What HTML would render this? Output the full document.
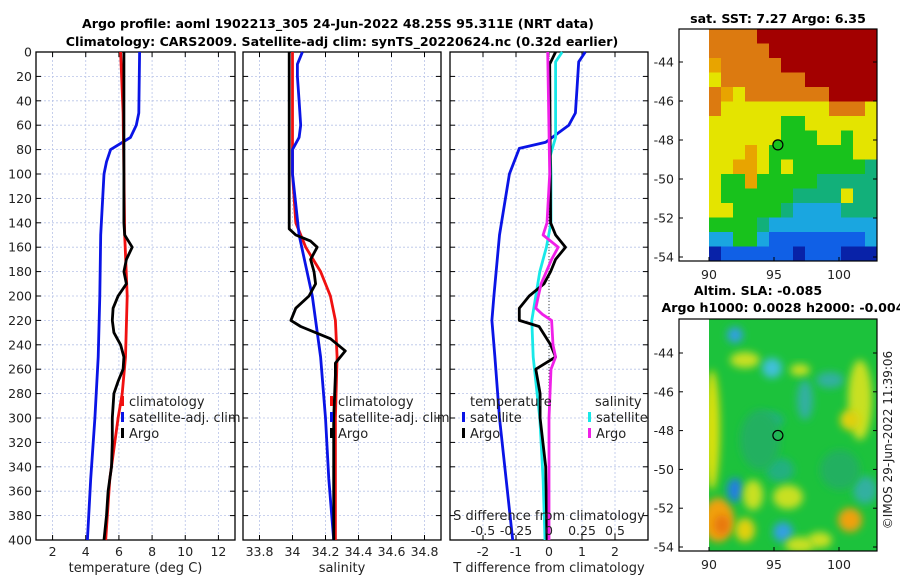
<!DOCTYPE html>
<html><head><meta charset="utf-8"><style>
body{margin:0;background:#fff;}
svg{display:block;font-family:"DejaVu Sans","Liberation Sans",sans-serif;}
</style></head><body>
<svg id="fig" width="900" height="580" viewBox="0 0 900 580">
<text x="338" y="28" text-anchor="middle" font-size="12.6" font-weight="bold">Argo profile: aoml 1902213_305 24-Jun-2022 48.25S 95.311E (NRT data)</text>
<text x="342" y="46" text-anchor="middle" font-size="12.6" font-weight="bold">Climatology: CARS2009. Satellite-adj clim: synTS_20220624.nc (0.32d earlier)</text>
<text x="778" y="23" text-anchor="middle" font-size="12.6" font-weight="bold">sat. SST: 7.27 Argo: 6.35</text>
<text x="758" y="295" text-anchor="middle" font-size="12.6" font-weight="bold">Altim. SLA: -0.085</text>
<text x="783" y="312" text-anchor="middle" font-size="12.6" font-weight="bold">Argo h1000: 0.0028 h2000: -0.004</text>
<text transform="translate(892,440) rotate(-90)" text-anchor="middle" font-size="12" fill="#222">©IMOS 29-Jun-2022 11:39:06</text>
</svg>
<script>
// temperature (deg C)
const tClimD=[0,50,100,150,200,250,280,300,350,400];
const tClim=[6.1,6.25,6.3,6.35,6.5,6.4,6.2,5.95,5.45,5.2];
const tSatD=[0,50,60,70,80,90,100,150,200,250,300,350,400];
const tSat=[7.25,7.2,7.05,6.7,5.5,5.25,5.1,4.9,4.85,4.75,4.55,4.3,4.1];
const tArgoD=[0,140,150,160,170,180,190,200,210,220,230,240,250,260,270,280,300,320,340,360,380,400];
const tArgo=[6.3,6.3,6.35,6.8,6.45,6.3,6.45,5.95,5.65,5.6,5.7,6.1,6.3,6.25,5.95,5.7,5.6,5.6,5.55,5.35,5.25,5.1];
// salinity
const sClimD=[0,100,140,160,180,200,220,250,300,400];
const sClim=[34.0,34.0,34.02,34.08,34.17,34.23,34.26,34.27,34.26,34.26];
const sSatD=[0,10,20,40,60,70,80,100,150,200,250,300,350,400];
const sSat=[34.06,34.03,34.03,34.04,34.05,34.04,34.0,34.0,34.04,34.12,34.17,34.2,34.22,34.25];
const sArgoD=[0,145,150,155,160,170,180,190,200,210,220,225,235,245,255,265,300,400];
const sArgo=[33.98,33.98,34.02,34.11,34.15,34.11,34.13,34.14,34.1,34.02,33.99,34.05,34.23,34.32,34.26,34.26,34.25,34.25];
// differences
const dTSatD=[0,8,30,50,60,74,79,100,150,200,220,250,300,350,400];
const dTSat=[1.1,0.9,0.85,0.8,0.6,-0.1,-0.9,-1.2,-1.5,-1.67,-1.73,-1.64,-1.5,-1.3,-1.1];
const dTArgoD=[0,10,140,150,160,170,180,190,200,210,220,225,240,250,255,260,280,300,340,400];
const dTArgo=[0.2,0.02,0.05,0.2,0.5,0.2,0.05,-0.15,-0.6,-0.9,-0.9,-0.3,0.05,0.2,-0.1,-0.4,-0.27,-0.27,-0.1,-0.06];
const dSSatD=[0,8,70,85,100,140,160,180,200,220,250,280,300,350,400];
const dSSat=[0.1,0.05,0.05,0.01,0.015,0.015,-0.02,-0.07,-0.1,-0.13,-0.12,-0.09,-0.07,-0.045,-0.03];
const dSArgoD=[0,100,140,150,160,170,180,190,200,210,215,220,240,250,260,300,400];
const dSArgo=[-0.01,0.005,-0.015,-0.045,0.07,0.02,-0.02,-0.06,-0.08,-0.1,-0.05,0.02,0.03,0.05,0.015,0,0];
const depthTicks=[0,20,40,60,80,100,120,140,160,180,200,220,240,260,280,300,320,340,360,380,400];
const tTicks=[2,4,6,8,10,12];
const sTicks=[33.8,34,34.2,34.4,34.6,34.8];
const dTTicks=[-2,-1,0,1,2];
const dSTicks=[-0.5,-0.25,0,0.25,0.5];
const dSTickLabels=['-0.5','-0.25','0','0.25','0.5'];

const NS='http://www.w3.org/2000/svg';
const svg=document.getElementById('fig');
function mk(tag,attrs,parent){const e=document.createElementNS(NS,tag);for(const k in attrs)e.setAttribute(k,attrs[k]);(parent||svg).appendChild(e);return e;}
const Y0=52,Y1=540;
const yScale=d=>Y0+(d/400)*(Y1-Y0);
const panels=[
 {x0:36,x1:235,min:1,max:13,ticks:tTicks,label:'temperature (deg C)',name:'temperature-panel'},
 {x0:243,x1:441,min:33.7,max:34.9,ticks:sTicks,label:'salinity',name:'salinity-panel'},
 {x0:450,x1:648,min:-3,max:3,ticks:dTTicks,label:'T difference from climatology',name:'difference-panel'}
];
function xs(p,v){return p.x0+(v-p.min)/(p.max-p.min)*(p.x1-p.x0);}
panels.forEach((p,i)=>{
 const g=mk('g',{});
 
 
 depthTicks.forEach(d=>{const y=yScale(d);
  if(d>0&&d<400){const l=mk('line',{x1:p.x0,x2:p.x1,y1:y,y2:y,stroke:'#b8c4e8','stroke-width':0.8,'stroke-dasharray':'2,2'},g);
   }
  mk('line',{x1:p.x0,x2:p.x0+5,y1:y,y2:y,stroke:'#000'},g);
  mk('line',{x1:p.x1-5,x2:p.x1,y1:y,y2:y,stroke:'#000'},g);
  if(i===0){const t=mk('text',{x:p.x0-4,y:y+4.5,'text-anchor':'end','font-size':12.5,fill:'#222'},g);t.textContent=d;
   }
 });
 p.ticks.forEach(v=>{const x=xs(p,v);
  const l=mk('line',{x1:x,x2:x,y1:Y0,y2:Y1,stroke:'#b8c4e8','stroke-width':0.8,'stroke-dasharray':'2,2'},g);
  
  mk('line',{x1:x,x2:x,y1:Y1-5,y2:Y1,stroke:'#000'},g);
  mk('line',{x1:x,x2:x,y1:Y0,y2:Y0+5,stroke:'#000'},g);
  const t=mk('text',{x:x,y:556,'text-anchor':'middle','font-size':12.5,fill:'#222'},g);t.textContent=v;
  
 });
 mk('rect',{x:p.x0,y:Y0,width:p.x1-p.x0,height:Y1-Y0,fill:'none',stroke:'#000','stroke-width':1.3},g);
 const lab=mk('text',{x:(p.x0+p.x1)/2,y:572,'text-anchor':'middle','font-size':13,fill:'#222'},g);lab.textContent=p.label;
 
});
function line(p,D,V,color,name,scale){
 const pts=D.map((d,k)=>{const v=scale?V[k]*4:V[k];return xs(p,v).toFixed(1)+','+yScale(d).toFixed(1);}).join(' ');
 const e=mk('polyline',{points:pts,fill:'none',stroke:color,'stroke-width':2.8,'stroke-linejoin':'round'});
 
 
}
const zl=mk('line',{x1:xs(panels[2],0),x2:xs(panels[2],0),y1:Y0,y2:Y1,stroke:'#444','stroke-width':1,'stroke-dasharray':'1,2'});


line(panels[0],tSatD,tSat,'#0a14e6','temp-satellite-line');
line(panels[0],tClimD,tClim,'#f01010','temp-climatology-line');
line(panels[0],tArgoD,tArgo,'#000','temp-argo-line');
line(panels[1],sClimD,sClim,'#f01010','sal-climatology-line');
line(panels[1],sSatD,sSat,'#0a14e6','sal-satellite-line');
line(panels[1],sArgoD,sArgo,'#000','sal-argo-line');
line(panels[2],dTSatD,dTSat,'#0a14e6','tdiff-satellite-line');
line(panels[2],dSSatD,dSSat,'#18e8e8','sdiff-satellite-line',true);
line(panels[2],dTArgoD,dTArgo,'#000','tdiff-argo-line');
line(panels[2],dSArgoD,dSArgo,'#f020e8','sdiff-argo-line',true);
const st=mk('text',{x:549,y:520,'text-anchor':'middle','font-size':13,fill:'#222'});st.textContent='S difference from climatology';


dSTicks.forEach((v,k)=>{const t=mk('text',{x:xs(panels[2],v*4),y:535,'text-anchor':'middle','font-size':12.5,fill:'#222'});t.textContent=dSTickLabels[k];
 
 });
function legend(x,y,color,text){const g=mk('g',{});
 
 
 if(color)mk('rect',{x:x,y:y-10,width:3,height:10,fill:color},g);
 const t=mk('text',{x:x+(color?8:0),y:y,'font-size':13,fill:'#222'},g);t.textContent=text;}
legend(121,406,'#f01010','climatology');legend(121,422,'#0a14e6','satellite-adj. clim');legend(121,438,'#000','Argo');
legend(330,406,'#f01010','climatology');legend(330,422,'#0a14e6','satellite-adj. clim');legend(330,438,'#000','Argo');
legend(470,406,null,'temperature');legend(462,422,'#0a14e6','satellite');legend(462,438,'#000','Argo');
legend(595,406,null,'salinity');legend(588,422,'#18e8e8','satellite');legend(588,438,'#f020e8','Argo');

// ---- maps ----
const pal={R:'#a30000',O:'#dc7a10',Q:'#e8a400',Y:'#e4e400',G:'#18c21c',T:'#12b07a',C:'#1aa6e0',B:'#1060e6',N:'#0822a8'};
const sstRows=['OOOORRRRRRRRRR','OOOOORRRRRRRRR','QOOOOORRRRRRRR','YOOOOOOORRRRRR','OQYOOOOOOORRRR','OYYYYYYYYYOOOY','YYYYYYGGYYYYYY','YYYYYYGGGYYGYY','YYYQYGGGGGGGYY','YYQQYGYGGGGGGT','YGGQGGGGGTTTTT','YGGGGGGTTTTYTT','YYGGGGTCCCCTTT','GGGGTCCCCCCCCC','CCGGCBBBBBBBBC','NBBBBBBNBBBNNN'];
function map(y0,y1,name){
 const g=mk('g',{});
 
 
 mk('rect',{x:679,y:y0,width:198,height:y1-y0,fill:'#fff'},g);
 return g;
}
function axesMap(g,y0,y1,latY){
 mk('rect',{x:679,y:y0,width:198,height:y1-y0,fill:'none',stroke:'#000','stroke-width':1.2},g);
 [90,95,100].forEach(l=>{const x=709+(l-90)*13;
  mk('line',{x1:x,x2:x,y1:y1-4,y2:y1,stroke:'#000'},g);
  const t=mk('text',{x:x,y:y1+18,'text-anchor':'middle','font-size':12.5,fill:'#222'},g);t.textContent=l;
  });
 [-44,-46,-48,-50,-52,-54].forEach(l=>{const y=latY(l);
  mk('line',{x1:679,x2:683,y1:y,y2:y,stroke:'#000'},g);
  mk('line',{x1:873,x2:877,y1:y,y2:y,stroke:'#000'},g);
  const t=mk('text',{x:674,y:y+4.5,'text-anchor':'end','font-size':12.5,fill:'#222'},g);t.textContent=l;
  });
}
const g1=map(29,261,'sst-map');
const cw=168/14,ch=232/16;
sstRows.forEach((row,r)=>{for(let c=0;c<14;c++){mk('rect',{x:709+c*cw,y:29+r*ch,width:cw+0.5,height:ch+0.5,fill:pal[row[c]]},g1);}});
const latY1=l=>62+(-44-l)*19.5;
const c1=mk('circle',{cx:709+5.3*13,cy:latY1(-48.25),r:5,fill:'#18c21c',stroke:'#000','stroke-width':1.2},g1);

axesMap(g1,29,261,latY1);
const g2=map(319,551,'sla-map');
const defs=mk('defs',{});
const f=mk('filter',{id:'bl',x:'-50%',y:'-50%',width:'200%',height:'200%'},defs);
mk('feGaussianBlur',{stdDeviation:4},f);
const cp=mk('clipPath',{id:'cp2'},defs);mk('rect',{x:709,y:319,width:168,height:232},cp);
const inner=mk('g',{'clip-path':'url(#cp2)'},g2);
mk('rect',{x:709,y:319,width:168,height:232,fill:'#1cc23c'},inner);
const blobs=[[712,430,8,60,'#d8e010'],[718,520,16,22,'#f0a010'],[722,525,8,10,'#e87810'],[745,360,15,8,'#c8e020'],[735,490,8,12,'#2080e0'],[772,368,10,10,'#40c0d8'],[780,470,14,12,'#20b080'],[753,495,10,15,'#c8e020'],[788,497,15,12,'#c8e020'],[800,370,10,6,'#c8e020'],[830,380,14,8,'#30b0a0'],[860,400,12,40,'#c8e020'],[850,420,10,10,'#e0d010'],[850,520,12,12,'#f0a010'],[745,530,10,12,'#e0d010'],[783,532,10,10,'#30a0e0'],[820,540,12,8,'#c8e020'],[865,490,12,14,'#30b0a0'],[805,400,8,20,'#30b0a0'],[770,420,14,8,'#20b080'],[735,335,8,8,'#30a0e0'],[800,545,15,8,'#c8e020'],[760,440,20,30,'#22b060'],[840,470,20,20,'#22b060']];
blobs.forEach(b=>{mk('ellipse',{cx:b[0],cy:b[1],rx:b[2],ry:b[3],fill:b[4],filter:'url(#bl)'},inner);});
const latY2=l=>353+(-44-l)*19.4;
const c2=mk('circle',{cx:709+5.3*13,cy:latY2(-48.25),r:5,fill:'none',stroke:'#000','stroke-width':1.2},g2);

axesMap(g2,319,551,latY2);
</script>
</body></html>
